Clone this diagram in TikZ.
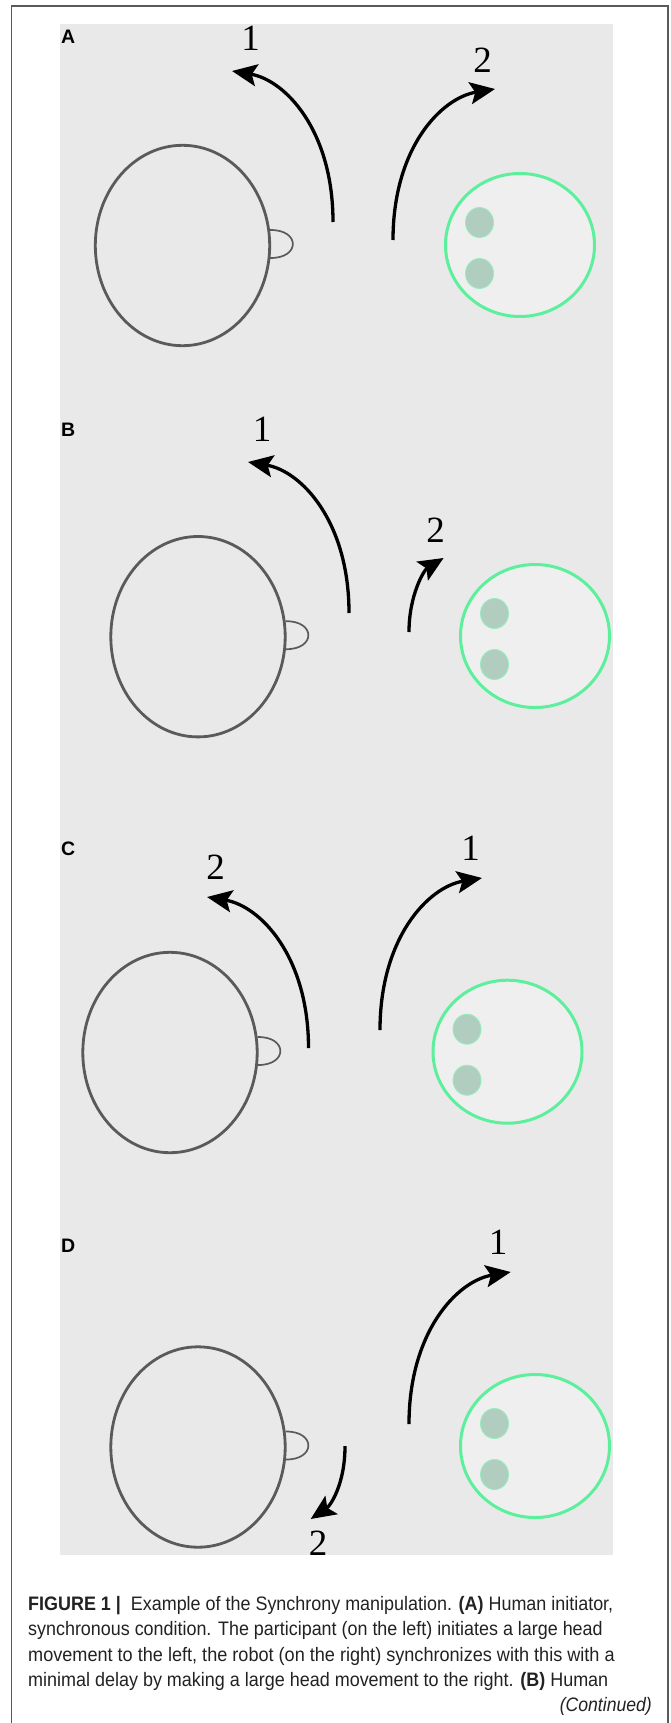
\documentclass[tikz,border=0pt]{standalone}
\usepackage{fontspec}
\setmainfont{Liberation Serif}
\newfontfamily\capfont{Liberation Sans}
\usetikzlibrary{arrows.meta}
\definecolor{bggray}{HTML}{E9E9E9}
\definecolor{framec}{HTML}{5A5A5A}
\definecolor{humangray}{HTML}{5A5A5A}
\definecolor{robotgreen}{HTML}{5CF09C}
\definecolor{robotfill}{HTML}{EFEFEF}
\definecolor{eyefill}{HTML}{B1CDBF}
\definecolor{eyeedge}{HTML}{96EEC0}
\definecolor{captext}{HTML}{222222}
\tikzset{
  humanline/.style={draw=humangray, line width=2.8pt},
  earline/.style={draw=humangray, line width=1.7pt},
  robotline/.style={draw=robotgreen, line width=3pt, fill=robotfill},
  eyeline/.style={draw=eyeedge, line width=0.9pt, fill=eyefill},
  mvarrow/.style={draw=black, line width=3.3pt, -{Stealth[length=25pt, width=22pt, inset=5pt]}},
  digit/.style={inner sep=0pt, font=\fontsize{37}{37}\selectfont},
  panellab/.style={inner sep=0pt, anchor=base west, font=\capfont\bfseries\fontsize{19.5}{19.5}\selectfont},
  capline/.style={anchor=base west, inner sep=0pt, text=captext, font=\capfont\fontsize{19.5}{24}\selectfont},
  human/.pic={
    \draw[humanline] (0,0) ellipse [x radius=87.2, y radius=100.2];
    \draw[earline] (87.5,-15.5) .. controls (118,-16) and (118,13) .. (87.5,12.5);
  },
  robot/.pic={
    \draw[robotline] (0,0) ellipse [x radius=74.5, y radius=71.5];
    \draw[eyeline] (-40.5,-22.5) ellipse [x radius=14, y radius=15];
    \draw[eyeline] (-40.5,28.5) ellipse [x radius=14, y radius=15];
  }
}
\begin{document}
\begin{tikzpicture}[x=1pt,y=-1pt]
\useasboundingbox (0,0) rectangle (670,1723);
\fill[white] (0,0) rectangle (670,1723);
\draw[framec, line width=1.2pt] (11.5,1740) -- (11.5,6) -- (668,6) -- (668,1740);
\fill[bggray] (60,24) rectangle (613,1555);

% Panel A
\node[panellab] (labA) at (61,44) {A};
\pic at (182.5,245.5) {human};
\pic at (520,245) {robot};
\coordinate (a1s) at (333,222); \coordinate (a1t) at (232,71);
\draw[mvarrow] (a1s) .. controls (333,130) and (285,80) .. (a1t);
\node[digit] (a1n) at (250.5,38) {1};
\coordinate (a2s) at (393,240); \coordinate (a2t) at (495,89);
\draw[mvarrow] (a2s) .. controls (393,148) and (441,98) .. (a2t);
\node[digit] (a2n) at (482.5,60) {2};

% Panel B
\node[panellab] (labB) at (61,436) {B};
\pic at (198,636.7) {human};
\pic at (535,636) {robot};
\coordinate (b1s) at (349,613); \coordinate (b1t) at (248,462);
\draw[mvarrow] (b1s) .. controls (349,521) and (301,471) .. (b1t);
\node[digit] (b1n) at (262,429.5) {1};
\coordinate (b2s) at (409,632); \coordinate (b2t) at (443.6,558);
\draw[mvarrow] (b2s) .. controls (409,595) and (424,570) .. (b2t);
\node[digit] (b2n) at (435.5,530.5) {2};

% Panel C
\node[panellab] (labC) at (61,855) {C};
\pic at (170,1052.5) {human};
\pic at (507.5,1051.7) {robot};
\coordinate (c2s) at (308.5,1048); \coordinate (c2t) at (207,897);
\draw[mvarrow] (c2s) .. controls (308.5,956) and (260,906) .. (c2t);
\node[digit] (c2n) at (215.5,867.5) {2};
\coordinate (c1s) at (380,1030); \coordinate (c1t) at (482,878);
\draw[mvarrow] (c1s) .. controls (380,938) and (428,887) .. (c1t);
\node[digit] (c1n) at (470.5,848) {1};

% Panel D
\node[panellab] (labD) at (61,1252) {D};
\pic at (198,1447) {human};
\pic at (535,1446) {robot};
\coordinate (d1s) at (409,1424); \coordinate (d1t) at (510.7,1272);
\draw[mvarrow] (d1s) .. controls (409,1332) and (457,1281) .. (d1t);
\node[digit] (d1n) at (498,1242) {1};
\coordinate (d2s) at (345,1446); \coordinate (d2t) at (310.7,1519);
\draw[mvarrow] (d2s) .. controls (345,1485) and (330,1506) .. (d2t);
\node[digit] (d2n) at (318,1543.5) {2};

% Caption
\node[capline] (cap1) at (28,1610) {\resizebox{585pt}{\height}{\textbf{FIGURE 1 |}\ \ Example of the Synchrony manipulation. \textbf{(A)} Human initiator,}};
\node[capline] (cap2) at (28,1635.5) {\resizebox{574.5pt}{\height}{synchronous condition. The participant (on the left) initiates a large head}};
\node[capline] (cap3) at (28,1661) {\resizebox{586.5pt}{\height}{movement to the left, the robot (on the right) synchronizes with this with a}};
\node[capline] (cap4) at (28,1686.5) {\resizebox{580pt}{\height}{minimal delay by making a large head movement to the right. \textbf{(B)} Human}};
\node[capline, anchor=base east] (cap5) at (652,1711) {\resizebox{92pt}{\height}{\itshape (Continued)}};
\end{tikzpicture}
\end{document}
